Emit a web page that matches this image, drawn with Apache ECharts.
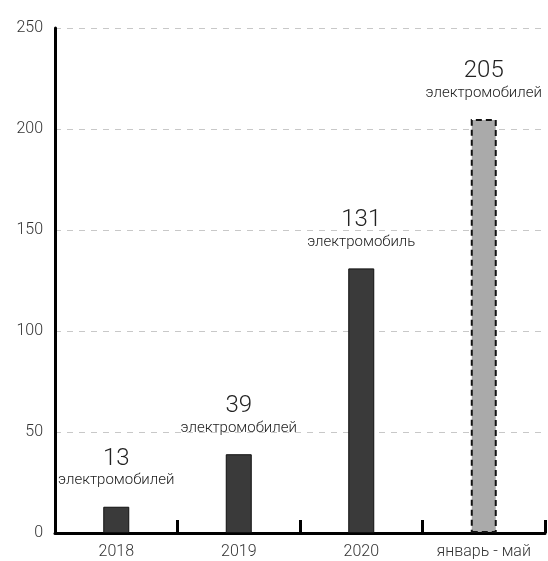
<!DOCTYPE html>
<html>
<head>
<meta charset="utf-8">
<script src="https://cdn.jsdelivr.net/npm/echarts@6/dist/echarts.min.js"></script>
<style>
  html, body { margin: 0; padding: 0; background: #fff; }
  #chart { width: 548px; height: 561px; }
</style>
</head>
<body>
<div id="chart"></div>
<script>
// Electric vehicles registered per period
const categories = ['2018', '2019', '2020', 'январь - май'];
const values = [13, 39, 131, 205];
const unitWords = ['электромобилей', 'электромобилей', 'электромобиль', 'электромобилей'];
const yTicks = [0, 50, 100, 150, 200, 250];

const FONT = 'Roboto, "DejaVu Sans", sans-serif';

const barData = values.map((v, i) => {
  const partial = i === values.length - 1;
  return {
    value: v,
    itemStyle: partial
      ? { color: '#aaaaaa', borderColor: '#111', borderWidth: 2, borderType: [6, 4] }
      : { color: '#3a3a3a', borderColor: '#111', borderWidth: 1 },
    label: {
      formatter: '{n|' + v + '}\n{t|' + unitWords[i] + '}'
    }
  };
});

const chart = echarts.init(document.getElementById('chart'), null, { renderer: 'canvas' });
chart.setOption({
  animation: false,
  grid: { left: 55, right: 3, top: 28, bottom: 28, containLabel: false },
  xAxis: {
    type: 'category',
    data: categories,
    boundaryGap: true,
    axisLine: { lineStyle: { color: '#000', width: 3 } },
    axisTick: { show: true, inside: true, length: 13, interval: 0, lineStyle: { color: '#000', width: 3 } },
    axisLabel: { interval: 0, hideOverlap: false, color: '#333', fontSize: 16, fontFamily: FONT, fontWeight: 300, margin: 11 }
  },
  yAxis: {
    type: 'value',
    min: yTicks[0],
    max: yTicks[yTicks.length - 1],
    interval: 50,
    axisLine: { show: true, lineStyle: { color: '#000', width: 3 } },
    axisTick: { show: false },
    axisLabel: { color: '#333', fontSize: 16, fontFamily: FONT, fontWeight: 300, margin: 12 },
    splitLine: { show: true, lineStyle: { color: '#c8c8c8', width: 1, type: [6, 6] } }
  },
  series: [{
    type: 'bar',
    data: barData,
    barWidth: 26,
    z: 3,
    label: {
      show: true,
      position: 'top',
      distance: 17,
      align: 'center',
      rich: {
        n: { fontSize: 24, fontFamily: FONT, fontWeight: 300, color: '#222', lineHeight: 26 },
        t: { fontSize: 15, fontFamily: FONT, fontWeight: 300, color: '#222', lineHeight: 18 }
      }
    }
  }]
});
</script>
</body>
</html>
